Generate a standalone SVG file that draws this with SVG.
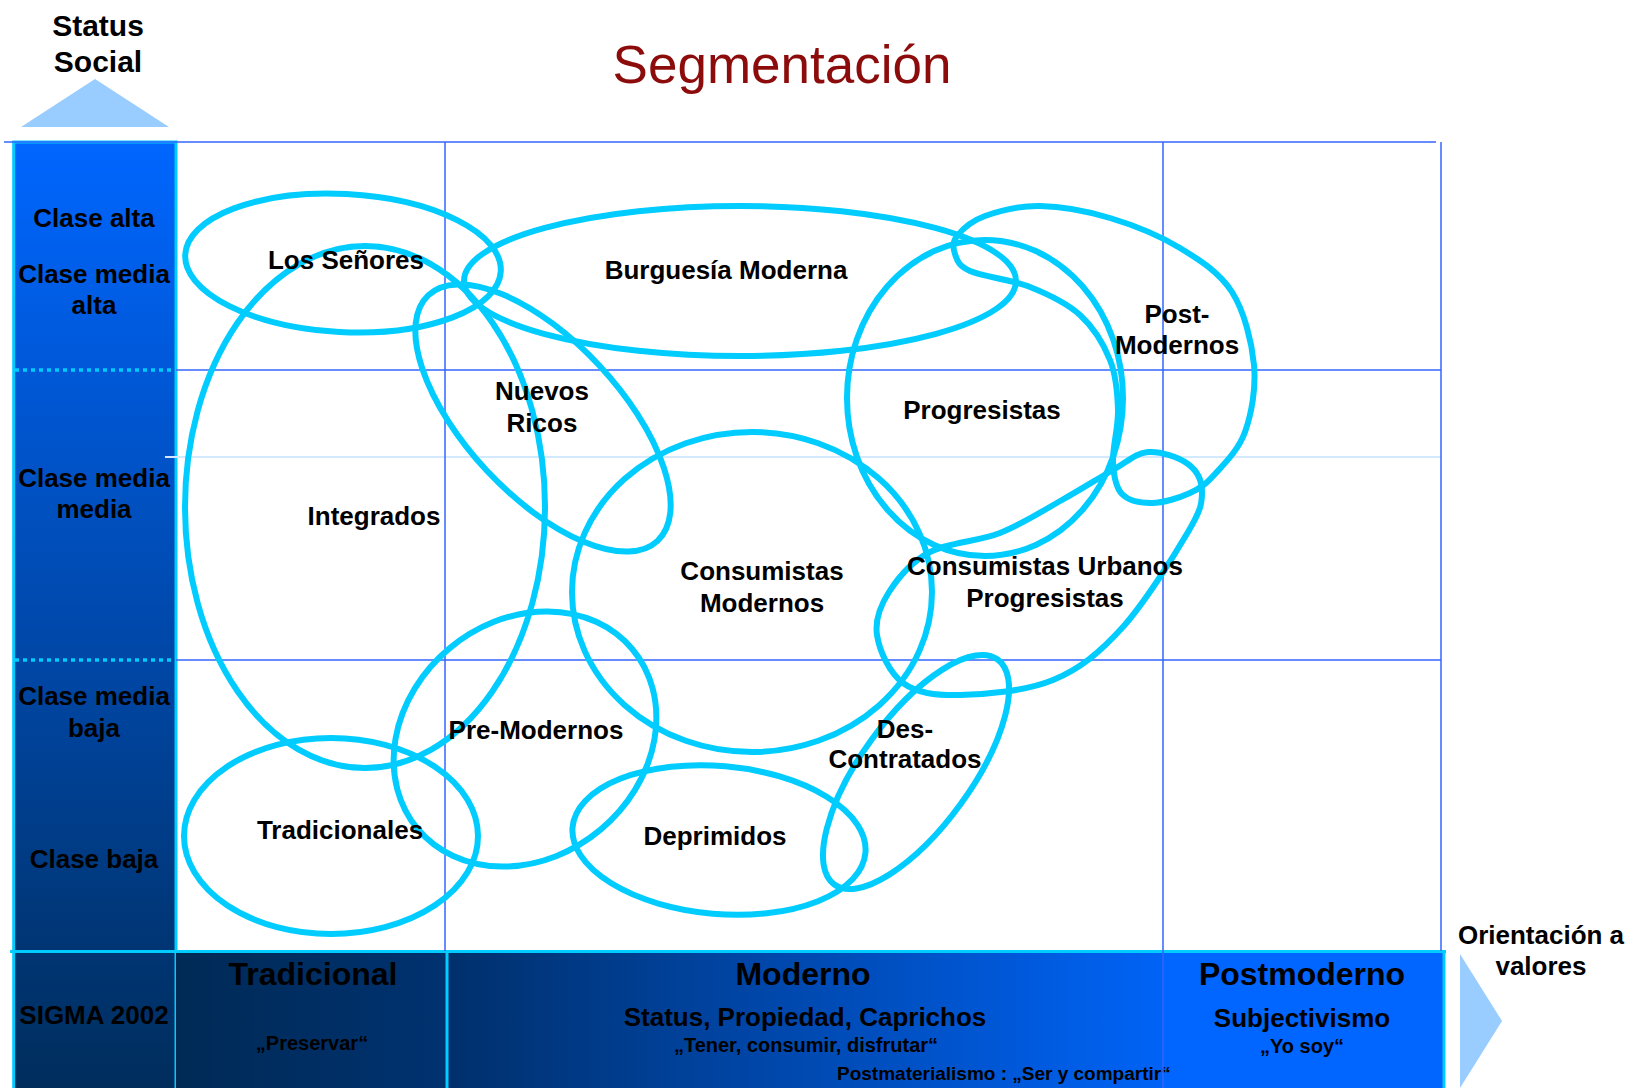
<svg xmlns="http://www.w3.org/2000/svg" width="1629" height="1088" viewBox="0 0 1629 1088">
<defs>
<linearGradient id="colGrad" x1="0" y1="142" x2="0" y2="1088" gradientUnits="userSpaceOnUse"><stop offset="0" stop-color="#0066FF"/><stop offset="1" stop-color="#002D5C"/></linearGradient>
<linearGradient id="tradGrad" x1="176" y1="0" x2="447" y2="0" gradientUnits="userSpaceOnUse"><stop offset="0" stop-color="#002A56"/><stop offset="1" stop-color="#003270"/></linearGradient>
<linearGradient id="modGrad" x1="447" y1="0" x2="1163" y2="0" gradientUnits="userSpaceOnUse"><stop offset="0" stop-color="#00306C"/><stop offset="1" stop-color="#0063F6"/></linearGradient>
</defs>
<style>
text{font-family:"Liberation Sans",Arial,Helvetica,sans-serif;font-weight:bold;fill:#000;text-anchor:middle}
.g{stroke:#3366FF;stroke-width:1.5;fill:none}
.gl{stroke:#D2E9FF;stroke-width:2;fill:none}
.cy{stroke:#00CCFF;stroke-width:3;fill:none}
.col{stroke:#00CCFF;stroke-width:3;fill:url(#colGrad)}
.dot{stroke:#00CCFF;stroke-width:3.5;stroke-dasharray:4 4;fill:none}
.seg{fill:none;stroke:#00CCFF;stroke-width:6}
.lbl{font-size:26px}
.big{font-size:32px}
.sub{font-size:26px}
.q{font-size:20px}
</style>
<rect x="0" y="0" width="1629" height="1088" fill="#FFFFFF"/>

<!-- title & axes -->
<g id="title"><text x="782" y="83" style="font-size:53px;font-weight:normal;fill:#8C0C0C">Segmentación</text></g>
<g id="axis-status">
<text x="98" y="36" style="font-size:30px">Status</text>
<text x="98" y="72" style="font-size:30px">Social</text>
<polygon points="21,127 95,79 169,127" fill="#99CCFF"/>
</g>
<g id="axis-values">
<text x="1541" y="944" class="lbl">Orientación a</text>
<text x="1541" y="975" class="lbl">valores</text>
<polygon points="1460,954 1502,1021 1460,1088" fill="#99CCFF"/>
</g>

<!-- left column -->
<g id="status-column">
<rect x="13.7" y="142" width="162.3" height="950" class="col"/>
<line x1="15" y1="370" x2="174" y2="370" class="dot"/>
<line x1="15" y1="660" x2="174" y2="660" class="dot"/>
<text x="94" y="227" class="lbl">Clase alta</text>
<text x="94" y="283" class="lbl">Clase media</text>
<text x="94" y="314" class="lbl">alta</text>
<text x="94" y="487" class="lbl">Clase media</text>
<text x="94" y="518" class="lbl">media</text>
<text x="94" y="705" class="lbl">Clase media</text>
<text x="94" y="737" class="lbl">baja</text>
<text x="94" y="868" class="lbl">Clase baja</text>
<text x="94" y="1024" class="lbl">SIGMA 2002</text>
</g>

<!-- bottom band -->
<g id="values-band">
<rect x="176" y="951" width="271" height="137" fill="url(#tradGrad)"/>
<rect x="447" y="951" width="716" height="137" fill="url(#modGrad)"/>
<rect x="1163" y="951" width="281" height="137" fill="#0066FF"/>
<line x1="10" y1="951.5" x2="1446" y2="951.5" class="cy"/>
<line x1="447" y1="951" x2="447" y2="1088" class="cy"/>
<line x1="1444" y1="951" x2="1444" y2="1088" class="cy"/>
<text x="313" y="985" class="big">Tradicional</text>
<text x="312" y="1050" class="q">„Preservar“</text>
<text x="803" y="985" class="big">Moderno</text>
<text x="805" y="1026" class="sub">Status, Propiedad, Caprichos</text>
<text x="806" y="1052" class="q">„Tener, consumir, disfrutar“</text>
<text x="837" y="1080" style="font-size:19px;text-anchor:start">Postmaterialismo : „Ser y compartir“</text>
<text x="1302" y="985" class="big">Postmoderno</text>
<text x="1302" y="1027" class="sub">Subjectivismo</text>
<text x="1302" y="1053" class="q">„Yo soy“</text>
</g>

<!-- grid -->
<g id="grid">
<line x1="4" y1="142" x2="1436" y2="142" class="g"/>
<line x1="176" y1="370" x2="1441" y2="370" class="g"/>
<line x1="165" y1="457" x2="1441" y2="457" class="gl"/>
<line x1="176" y1="660" x2="1441" y2="660" class="g"/>
<line x1="445" y1="142" x2="445" y2="951" class="g"/>
<line x1="1163" y1="142" x2="1163" y2="1088" class="g"/>
<line x1="1441" y1="142" x2="1441" y2="951" class="g"/>
</g>

<!-- segments -->
<g id="connectors"></g>
<g id="los-senores"><ellipse cx="343" cy="263" rx="158" ry="69" transform="rotate(3 343 263)" class="seg"/></g>
<g id="integrados"><ellipse cx="365" cy="507" rx="180" ry="261" class="seg"/></g>
<g id="burguesia-moderna"><ellipse cx="740" cy="281" rx="276" ry="75" class="seg"/></g>
<g id="nuevos-ricos"><ellipse cx="543" cy="418" rx="168" ry="77" transform="rotate(47 543 418)" class="seg"/></g>
<g id="progresistas"><ellipse cx="985" cy="398" rx="138" ry="158" class="seg"/></g>
<g id="post-modernos"><path class="seg" d="M957,236 C962,229.67 971.17,221 985,216 C998.83,211 1019.17,205.67 1040,206 C1060.83,206.33 1086.67,211 1110,218 C1133.33,225 1159.67,235.67 1180,248 C1200.33,260.33 1219.67,272.5 1232,292 C1244.33,311.5 1251.83,341.67 1254,365 C1256.17,388.33 1251.5,413.83 1245,432 C1238.5,450.17 1224.17,463.83 1215,474 C1205.83,484.17 1200.5,488.17 1190,493 C1179.5,497.83 1163.33,502.83 1152,503 C1140.67,503.17 1128.5,500.83 1122,494 C1115.5,487.17 1113.67,476 1113,462 C1112.33,448 1118.5,427 1118,410 C1117.5,393 1116.33,375.83 1110,360 C1103.67,344.17 1093.33,327.17 1080,315 C1066.67,302.83 1048.33,294.33 1030,287 C1011.67,279.67 982.5,276.5 970,271 C957.5,265.5 957.17,259.830 955,254 C952.83,248.17 952,242.33 957,236 Z"/></g>
<g id="consumistas-modernos"><ellipse cx="752" cy="592" rx="180" ry="160" class="seg"/></g>
<g id="consumistas-urbanos-progresistas"><path class="seg" d="M1113,470 C1127.3,462 1135.5,453 1148,452 C1160.5,451 1179,457.3 1188,464 C1197,470.7 1202,480.7 1202,492 C1202,503.3 1201.3,509.3 1188,532 C1174.7,554.7 1144.5,603.3 1122,628 C1099.5,652.7 1080,668.8 1053,680 C1026,691.2 985,694.5 960,695 C935,695.5 916.8,693 903,683 C889.2,673 879.3,650.2 877,635 C874.7,619.8 880.2,605.8 889,592 C897.8,578.2 911.5,561.8 930,552 C948.5,542.2 978,541.7 1000,533 C1022,524.3 1043.2,510.5 1062,500 C1080.8,489.5 1098.7,478 1113,470 Z"/></g>
<g id="pre-modernos"><ellipse cx="525" cy="739" rx="140" ry="118" transform="rotate(-40 525 739)" class="seg"/></g>
<g id="tradicionales"><ellipse cx="331" cy="836" rx="147" ry="98" class="seg"/></g>
<g id="deprimidos"><ellipse cx="719" cy="840" rx="147" ry="74" transform="rotate(5 719 840)" class="seg"/></g>
<g id="des-contratados"><ellipse cx="916" cy="772" rx="139" ry="55" transform="rotate(-54 916 772)" class="seg"/></g>

<!-- segment labels -->
<g id="labels">
<text x="346" y="269" class="lbl">Los Señores</text>
<text x="726" y="279" class="lbl">Burguesía Moderna</text>
<text x="1177" y="323" class="lbl">Post-</text>
<text x="1177" y="354" class="lbl">Modernos</text>
<text x="542" y="400" class="lbl">Nuevos</text>
<text x="542" y="432" class="lbl">Ricos</text>
<text x="982" y="419" class="lbl">Progresistas</text>
<text x="374" y="525" class="lbl">Integrados</text>
<text x="762" y="580" class="lbl">Consumistas</text>
<text x="762" y="612" class="lbl">Modernos</text>
<text x="1045" y="575" class="lbl">Consumistas Urbanos</text>
<text x="1045" y="607" class="lbl">Progresistas</text>
<text x="536" y="739" class="lbl">Pre-Modernos</text>
<text x="905" y="738" class="lbl">Des-</text>
<text x="905" y="768" class="lbl">Contratados</text>
<text x="340" y="839" class="lbl">Tradicionales</text>
<text x="715" y="845" class="lbl">Deprimidos</text>
</g>
</svg>
